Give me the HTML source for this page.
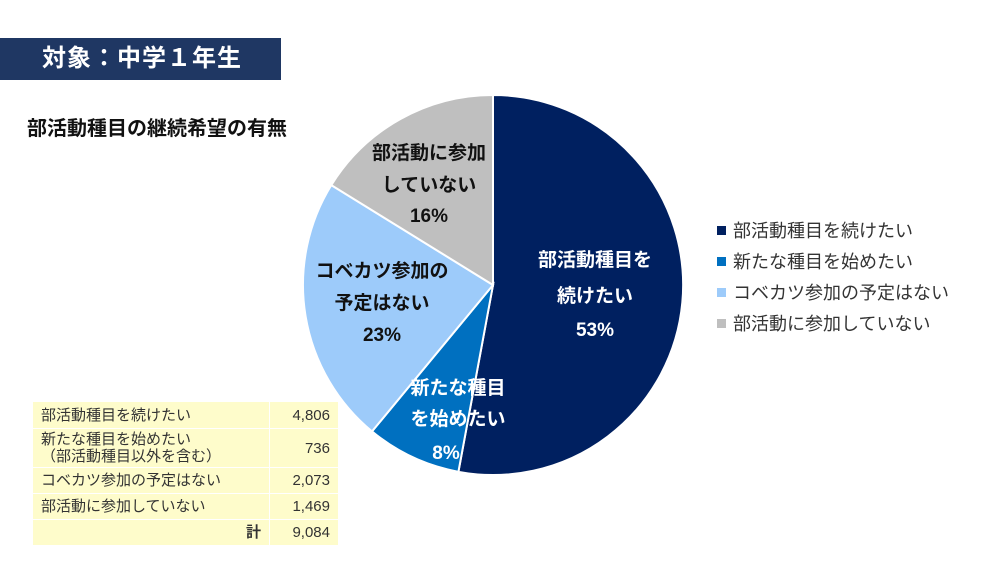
<!DOCTYPE html>
<html><head><meta charset="utf-8"><style>
body{margin:0;width:1000px;height:563px;background:#fff;font-family:"Liberation Sans","Noto Sans CJK JP",sans-serif;position:relative;overflow:hidden}
.t{position:absolute;white-space:nowrap}
table{position:absolute;left:32px;top:401px;border-collapse:collapse;font-size:15px;color:#333}
td{background:#fefccb;border:1.5px solid #fff;padding:0 8px;line-height:17px}
td.n{text-align:right;width:52px}
</style></head><body>
<div style="position:absolute;left:0;top:38px;width:281px;height:42px;background:#1f3763"></div>
<div class="t" style="left:42px;top:42px;font-size:24px;font-weight:bold;color:#fff;line-height:34px;letter-spacing:1px">対象：中学１年生</div>
<div class="t" style="left:27px;top:112px;font-size:20px;font-weight:bold;color:#111">部活動種目の継続希望の有無</div>
<svg width="1000" height="563" style="position:absolute;left:0;top:0">
<g stroke="#fff" stroke-width="2">
<path d="M493,285 L493,95 A190,190 0 1 1 458.4,471.8 Z" fill="#002060"/>
<path d="M493,285 L458.4,471.8 A190,190 0 0 1 372,431.4 Z" fill="#0070c0"/>
<path d="M493,285 L372,431.4 A190,190 0 0 1 331.3,185.1 Z" fill="#9dcbfa"/>
<path d="M493,285 L331.3,185.1 A190,190 0 0 1 493,95 Z" fill="#bfbfbf"/>
</g>
<g font-family="Liberation Sans,Noto Sans CJK JP,sans-serif" font-size="19" font-weight="bold" text-anchor="middle">
<g fill="#fff"><text x="595" y="266">部活動種目を</text><text x="595" y="302">続けたい</text><text x="595" y="336">53%</text>
<text x="458" y="394">新たな種目</text><text x="458" y="425">を始めたい</text><text x="446" y="459">8%</text></g>
<g fill="#111"><text x="382" y="277">コベカツ参加の</text><text x="382" y="309">予定はない</text><text x="382" y="341">23%</text>
<text x="429" y="159">部活動に参加</text><text x="429" y="191">していない</text><text x="429" y="222">16%</text></g>
</g>
<rect x="717" y="226" width="9" height="9" fill="#002060"/>
<rect x="717" y="257" width="9" height="9" fill="#0070c0"/>
<rect x="717" y="288" width="9" height="9" fill="#9dcbfa"/>
<rect x="717" y="319" width="9" height="9" fill="#bfbfbf"/>
<g font-family="Liberation Sans,Noto Sans CJK JP,sans-serif" font-size="18" fill="#333">
<text x="733" y="237">部活動種目を続けたい</text><text x="733" y="268">新たな種目を始めたい</text>
<text x="733" y="299">コベカツ参加の予定はない</text><text x="733" y="330">部活動に参加していない</text></g>
</svg>
<table>
<tr style="height:27px"><td style="width:220px">部活動種目を続けたい</td><td class="n">4,806</td></tr>
<tr style="height:39px"><td>新たな種目を始めたい<br>（部活動種目以外を含む）</td><td class="n">736</td></tr>
<tr style="height:26px"><td>コベカツ参加の予定はない</td><td class="n">2,073</td></tr>
<tr style="height:26px"><td>部活動に参加していない</td><td class="n">1,469</td></tr>
<tr style="height:26px"><td style="text-align:right;font-weight:bold">計</td><td class="n">9,084</td></tr>
</table>
</body></html>
